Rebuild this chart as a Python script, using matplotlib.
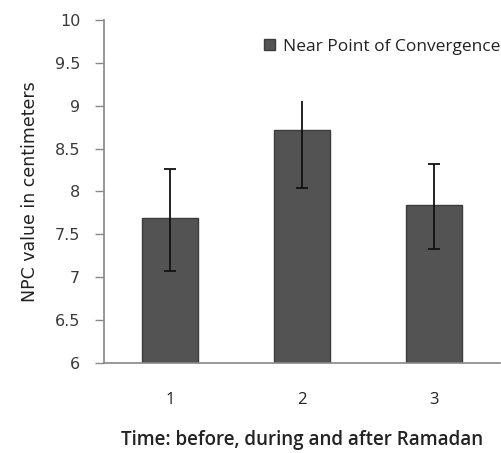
import matplotlib
matplotlib.use("Agg")
import matplotlib.pyplot as plt

categories = ["1", "2", "3"]
npc_values = [7.69, 8.72, 7.84]
err_low = [0.62, 0.68, 0.51]
err_high = [0.57, 0.34, 0.48]
y_ticks = [6, 6.5, 7, 7.5, 8, 8.5, 9, 9.5, 10]
y_ticklabels = ["6", "6.5", "7", "7.5", "8", "8.5", "9", "9.5", "10"]

fig = plt.figure(figsize=(5.02, 4.53), dpi=100)
ax = fig.add_axes([0.207, 0.199, 0.789, 0.757])

x = list(range(1, len(categories) + 1))
ax.bar(x, [v - 6 for v in npc_values], bottom=6, width=0.43,
       color="#535353", edgecolor="#3c3c3c", linewidth=1.0,
       label="Near Point of Convergence", zorder=2)
eb = ax.errorbar(x, npc_values, yerr=[err_low, err_high], fmt="none",
                 ecolor="#111111", elinewidth=1.3, capsize=4.5, capthick=1.3, zorder=3)
# top cap of second bar is not shown in the reference
eb[1][1].set_markevery([0, 2])

ax.set_xlim(0.5, 3.5)
ax.set_ylim(6, 10)
ax.set_xticks(x)
ax.set_xticklabels(categories, fontsize=12, family="Open Sans", color="#222222")
ax.set_yticks(y_ticks)
ax.set_yticklabels(y_ticklabels, fontsize=11.5, family="DejaVu Sans", color="#3a3a3a")
ax.tick_params(axis="x", length=0, pad=21)
ax.tick_params(axis="y", length=6.5, width=1, color="#888888", pad=10.5)

for s in ["top", "right"]:
    ax.spines[s].set_visible(False)
for s in ["left", "bottom"]:
    ax.spines[s].set_color("#888888")
    ax.spines[s].set_linewidth(1.2)

ax.set_ylabel("NPC value in centimeters", fontsize=12.5, family="DejaVu Sans",
              color="#222222")
ax.yaxis.set_label_coords(-0.163, 0.5)
ax.set_xlabel("Time: before, during and after Ramadan", fontsize=13.5,
              family="Open Sans", fontweight="semibold", color="#222222", labelpad=16)

leg = ax.legend(loc="center left", bbox_to_anchor=(0.405, 0.922), frameon=False,
                prop={"family": "Open Sans", "size": 12.5}, handlelength=0.6,
                handleheight=0.6, handletextpad=0.5, borderaxespad=0,
                borderpad=0)
for t in leg.get_texts():
    t.set_color("#222222")

fig.savefig("out.png", dpi=100, facecolor="white")
